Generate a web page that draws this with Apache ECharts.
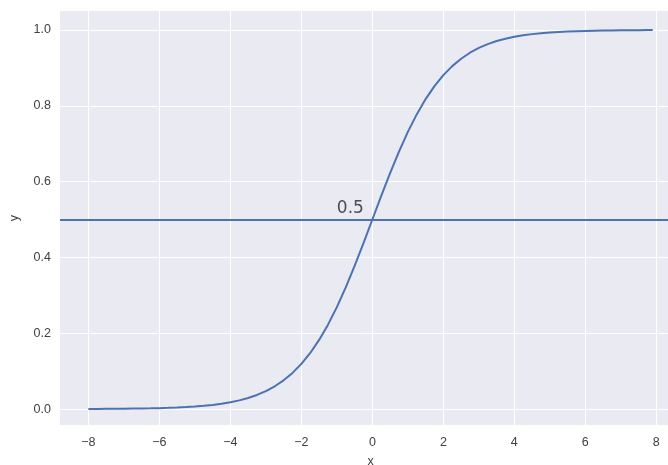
<!DOCTYPE html>
<html><head><meta charset="utf-8">
<script src="https://cdn.jsdelivr.net/npm/echarts@6/dist/echarts.min.js"></script>
<style>html,body{margin:0;padding:0;background:#fff}#c{width:668px;height:465px}</style>
</head><body><div id="c"></div>
<script>
const xValues = [-8,-7.75,-7.5,-7.25,-7,-6.75,-6.5,-6.25,-6,-5.75,-5.5,-5.25,-5,-4.75,-4.5,-4.25,-4,-3.75,-3.5,-3.25,-3,-2.75,-2.5,-2.25,-2,-1.75,-1.5,-1.25,-1,-0.75,-0.5,-0.25,0,0.25,0.5,0.75,1,1.25,1.5,1.75,2,2.25,2.5,2.75,3,3.25,3.5,3.75,4,4.25,4.5,4.75,5,5.25,5.5,5.75,6,6.25,6.5,6.75,7,7.25,7.5,7.75,7.9];
const yValues = [0.0003,0.0004,0.0006,0.0007,0.0009,0.0012,0.0015,0.0019,0.0025,0.0032,0.0041,0.0052,0.0067,0.0086,0.011,0.0141,0.018,0.023,0.0293,0.0373,0.0474,0.0601,0.0759,0.0954,0.1192,0.148,0.1824,0.2227,0.2689,0.3208,0.3775,0.4378,0.5,0.5622,0.6225,0.6792,0.7311,0.7773,0.8176,0.852,0.8808,0.9046,0.9241,0.9399,0.9526,0.9627,0.9707,0.977,0.982,0.9859,0.989,0.9914,0.9933,0.9948,0.9959,0.9968,0.9975,0.9981,0.9985,0.9988,0.9991,0.9993,0.9994,0.9996,0.9996];
const hLineY = 0.5;
const annotation = {x: -1, y: 0.5, text: '0.5'};
const xTicks = [-8,-6,-4,-2,0,2,4,6,8];
const yTicks = [0.0,0.2,0.4,0.6,0.8,1.0];

const chart = echarts.init(document.getElementById('c'), null, {renderer:'canvas'});
const tickStyle = {color:'#404040', fontSize:12.5, fontFamily:'Liberation Sans'};
chart.setOption({
  backgroundColor:'#ffffff',
  animation:false,
  grid:{left:60, top:11, width:621, height:414, backgroundColor:'#EAEAF2', show:true, borderWidth:0,
    outerBoundsMode:'none', containLabel:false},
  xAxis:{type:'value', min:-8.8, max:8.695,
    axisLine:{show:false}, axisTick:{show:false, customValues:xTicks},
    splitLine:{show:true, lineStyle:{color:'#ffffff', width:1}},
    axisLabel:Object.assign({margin:11, customValues:xTicks, formatter:v=>String(v).replace('-','\u2212')}, tickStyle),
    name:'x', nameLocation:'middle', nameGap:30, nameTextStyle:Object.assign({}, tickStyle)},
  yAxis:{type:'value', min:-0.042, max:1.05,
    axisLine:{show:false}, axisTick:{show:false, customValues:yTicks},
    splitLine:{show:true, lineStyle:{color:'#ffffff', width:1}},
    axisLabel:Object.assign({margin:9, customValues:yTicks, formatter:v=>v.toFixed(1)}, tickStyle),
    name:'y', nameLocation:'middle', nameGap:39, nameRotate:90, nameTextStyle:Object.assign({}, tickStyle)},
  series:[
    {type:'line', data:xValues.map((x,i)=>[x,yValues[i]]), showSymbol:false, smooth:false,
      lineStyle:{color:'#4C72B0', width:2}, z:3,
      markLine:{silent:true, symbol:'none', label:{show:false},
        lineStyle:{color:'#4C72B0', width:2, type:'solid'}, data:[{yAxis:hLineY}]}},
    {type:'scatter', data:[[annotation.x, annotation.y]], symbolSize:0, z:4,
      label:{show:true, position:[0,0], align:'left', verticalAlign:'bottom', formatter:annotation.text,
        color:'#262626', fontSize:17, fontFamily:'DejaVu Sans', padding:[0,0,2,0]}}
  ]
});
</script></body></html>
